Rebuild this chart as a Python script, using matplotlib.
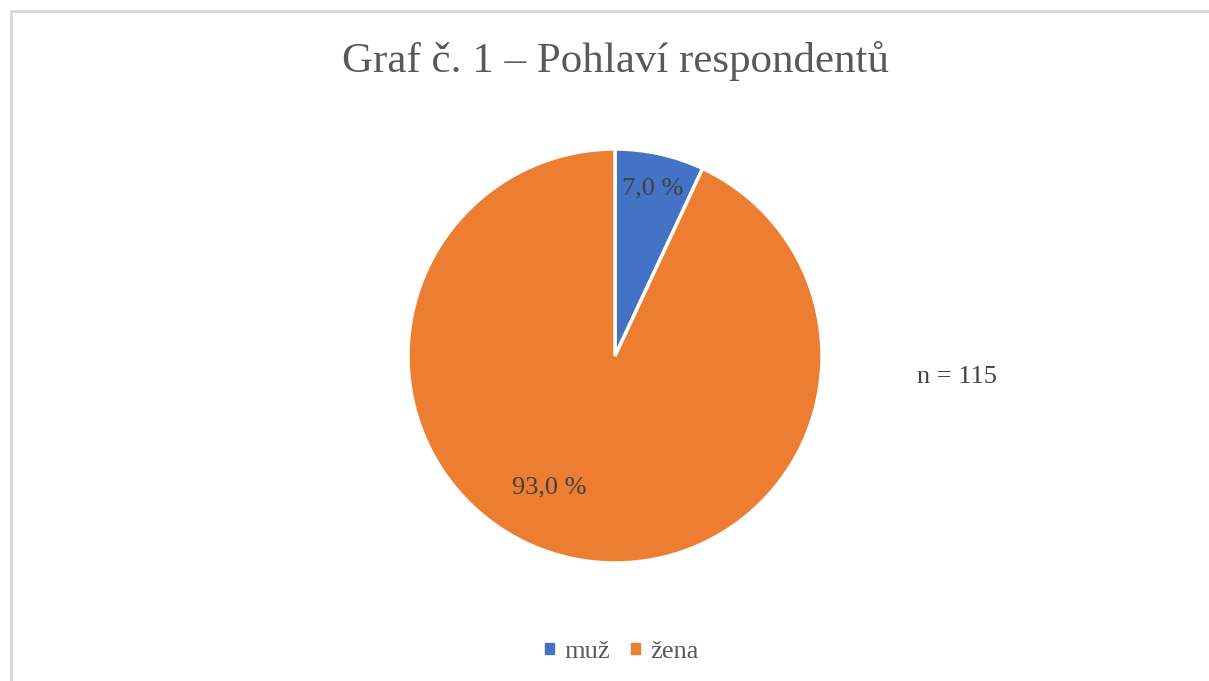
import numpy as np
import matplotlib
matplotlib.use("Agg")
import matplotlib.pyplot as plt
import matplotlib.patches as mpatches

# ── Data ─────────────────────────────────────────────
categories = ["muž", "žena"]
counts = [8, 107]
n_total = 115
colors = ["#4472C4", "#ED7D31"]
title = "Graf č. 1 – Pohlaví respondentů"

plt.rcParams["font.family"] = ["Liberation Serif", "DejaVu Serif"]
TXT = "#595959"

W, H = 1209, 681
fig = plt.figure(figsize=(W / 100, H / 100), dpi=100)

# chart frame (only top/left edges visible in the crop)
fig.patches.append(mpatches.Rectangle((11 / W, -0.05), 1.2, 1 - 11 / H + 0.05,
                                      transform=fig.transFigure, fill=False,
                                      edgecolor="#d9d9d9", linewidth=2.2))

cx, cy, r = 615, 356, 207
ax = fig.add_axes([(cx - r) / W, (H - cy - r) / H, 2 * r / W, 2 * r / H])

def fmt(p):
    return f"{p:.1f} %".replace(".", ",")

wedges, _, autotexts = ax.pie(counts, colors=colors, startangle=90,
                              counterclock=False, autopct=fmt,
                              pctdistance=0.83,
                              wedgeprops=dict(edgecolor="white", linewidth=2.5),
                              textprops=dict(color="#404040", fontsize=19))
ax.set_xlim(-1, 1)
ax.set_ylim(-1, 1)
ax.set_aspect("equal")

# Excel-style "best fit" place for the large slice label
ang = np.deg2rad(-116.7)
autotexts[1].set_position((0.71 * np.cos(ang), 0.71 * np.sin(ang)))

fig.text(615 / W, 1 - 61 / H, title, ha="center", va="center",
         fontsize=31, color=TXT)
fig.text(957 / W, 1 - 377 / H, f"n = {n_total}", ha="center", va="center",
         fontsize=19, color="#404040")

handles = [mpatches.Patch(color=c, label=l) for c, l in zip(colors, categories)]
fig.legend(handles=handles, loc="center", bbox_to_anchor=(622 / W, 1 - 652 / H),
           ncol=2, frameon=False, fontsize=19, handlelength=0.32,
           handleheight=0.32, handletextpad=0.4, columnspacing=0.8,
           labelcolor=TXT)

fig.savefig("out.png", dpi=100)
